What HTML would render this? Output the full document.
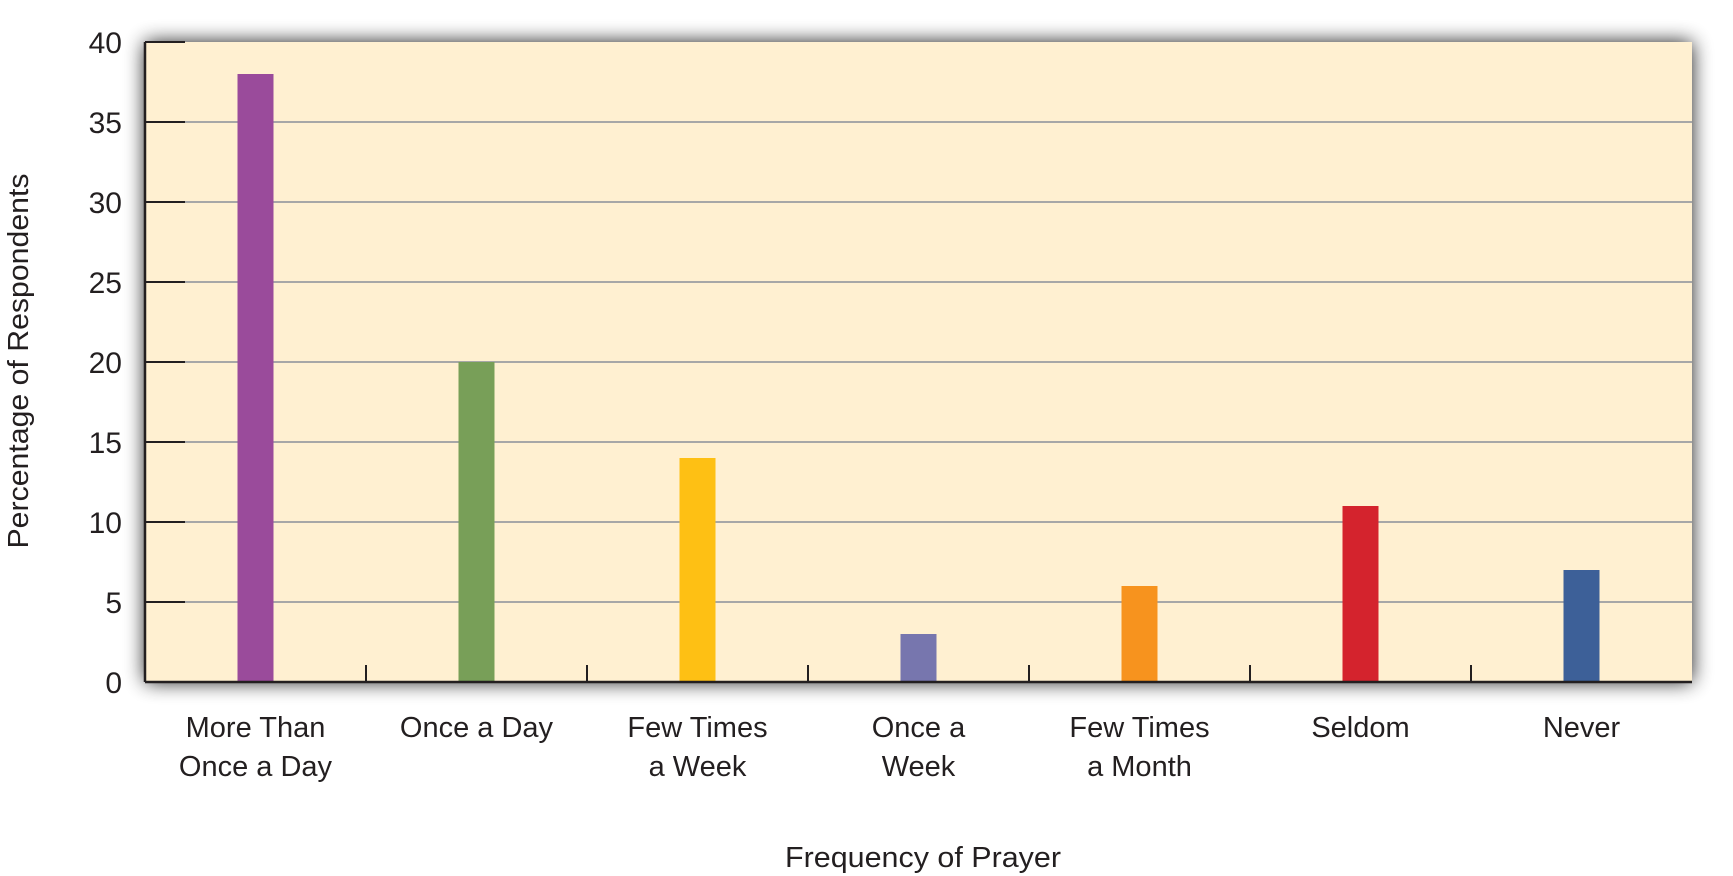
<!DOCTYPE html>
<html><head><meta charset="utf-8"><style>
html,body{margin:0;padding:0;background:#fff;}
svg{display:block;font-family:"Liberation Sans",sans-serif;}
</style></head><body>
<svg id="chart" width="1733" height="876" viewBox="0 0 1733 876" xmlns="http://www.w3.org/2000/svg">
<defs>
<filter id="sh" x="-5%" y="-10%" width="110%" height="125%">
<feGaussianBlur in="SourceAlpha" stdDeviation="10"/>
<feOffset dx="0" dy="0"/>
<feComponentTransfer><feFuncA type="linear" slope="0.9"/></feComponentTransfer>
<feMerge><feMergeNode/><feMergeNode in="SourceGraphic"/></feMerge>
</filter>
</defs>
<rect x="145" y="42" width="1547" height="640" fill="#fff0d1" filter="url(#sh)"/>
<g id="grid"></g>
<g id="bars"></g>
<g id="axes"></g>
<text transform="translate(28,361) rotate(-90)" text-anchor="middle" font-size="29" fill="#231f20" textLength="375" lengthAdjust="spacingAndGlyphs">Percentage of Respondents</text>
<text x="923" y="867" text-anchor="middle" font-size="29" fill="#231f20" textLength="276" lengthAdjust="spacingAndGlyphs">Frequency of Prayer</text>
</svg>
<script>
const categories = [["More Than","Once a Day"],["Once a Day"],["Few Times","a Week"],["Once a","Week"],["Few Times","a Month"],["Seldom"],["Never"]];
const values = [38, 20, 14, 3, 6, 11, 7];
const colors = ["#9a4b9b","#789f58","#fec014","#7776ae","#f7931e","#d4232d","#3d6098"];
const yTicks = [0,5,10,15,20,25,30,35,40];
const NS="http://www.w3.org/2000/svg";
const L=145,R=1692,T=42,B=682,yMax=40;
const y=v=>B-(v/yMax)*(B-T);
const bw=(R-L)/categories.length;
const xc=i=>L+bw*(i+0.5);
function mk(tag,attrs,parent){const e=document.createElementNS(NS,tag);for(const k in attrs)e.setAttribute(k,attrs[k]);parent.appendChild(e);return e;}
const grid=document.getElementById('grid'),bars=document.getElementById('bars'),axes=document.getElementById('axes');
yTicks.forEach(t=>{
  if(t>0&&t<yMax){const g=mk('line',{x1:L,x2:R,y1:y(t),y2:y(t),stroke:'#a7a7a7','stroke-width':2},grid);
  
  }
  const tk=mk('line',{x1:L,x2:L+40,y1:y(t),y2:y(t),stroke:'#231f20','stroke-width':2},axes);
  
  
  const tx=mk('text',{x:122,y:y(t)+11,'text-anchor':'end','font-size':30,fill:'#231f20'},axes);
  tx.textContent=t;
  
  
});
values.forEach((v,i)=>{
  const r=mk('rect',{x:xc(i)-18,y:y(v),width:36,height:B-y(v),fill:colors[i]},bars);
  
  
  categories[i].forEach((line,j)=>{
    const t=mk('text',{x:xc(i),y:737+j*39,'text-anchor':'middle','font-size':29,fill:'#231f20'},axes);
    t.textContent=line;
    
    
  });
  if(i>0){const tk=mk('line',{x1:L+bw*i,x2:L+bw*i,y1:B-17,y2:B,stroke:'#231f20','stroke-width':2},axes);
  
  }
});
const ya=mk('line',{x1:L,x2:L,y1:T,y2:B,stroke:'#231f20','stroke-width':2.5},axes);


const xa=mk('line',{x1:L,x2:R,y1:B,y2:B,stroke:'#231f20','stroke-width':2.5},axes);


</script>
</body></html>
